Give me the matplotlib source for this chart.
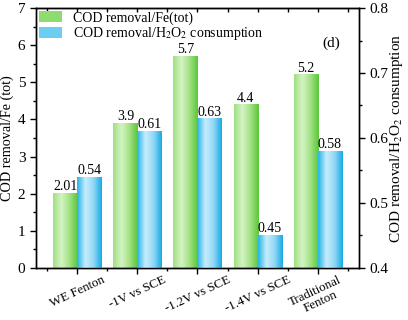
import numpy as np
import matplotlib
matplotlib.use("Agg")
import matplotlib.pyplot as plt
from matplotlib.colors import LinearSegmentedColormap
from matplotlib.patches import Patch
from matplotlib.ticker import MultipleLocator, FormatStrFormatter

plt.rcParams['font.family'] = ['Liberation Serif', 'DejaVu Serif']
plt.rcParams['mathtext.fontset'] = 'stix'

categories = ["WE Fenton", "-1V vs SCE", "-1.2V vs SCE", "-1.4V vs SCE", "Traditional\nFenton"]
cod_fe = [2.01, 3.9, 5.7, 4.4, 5.2]
cod_h2o2 = [0.54, 0.61, 0.63, 0.45, 0.58]
fe_labels = ["2.01", "3.9", "5.7", "4.4", "5.2"]
h2o2_labels = ["0.54", "0.61", "0.63", "0.45", "0.58"]

green_cmap = LinearSegmentedColormap.from_list(
    "g", ["#9fe083", "#d4f4c4", "#a2e184", "#5cc63a"])
blue_cmap = LinearSegmentedColormap.from_list(
    "b", ["#26b4e8", "#c6edfc", "#92d8f6", "#16abe4"])


def shade_bars(ax, bars, cmap):
    grad = np.linspace(0, 1, 64).reshape(1, -1)
    for b in bars:
        x, y = b.get_x(), b.get_y()
        w, h = b.get_width(), b.get_height()
        ax.imshow(grad, cmap=cmap, aspect="auto", extent=(x, x + w, y, y + h),
                  zorder=b.get_zorder(), interpolation="bicubic")
        b.set_facecolor("none")


fig = plt.figure(figsize=(4.08, 3.2), dpi=100)
ax = fig.add_axes([0.088, 0.1625, 0.792, 0.8125])
ax2 = ax.twinx()

x = np.arange(len(categories))
w = 0.4
bars1 = ax.bar(x - w / 2, cod_fe, w, color="none", linewidth=0, zorder=2)
bars2 = ax2.bar(x + w / 2, np.array(cod_h2o2) - 0.4, w, bottom=0.4,
                color="none", linewidth=0, zorder=2)

shade_bars(ax, bars1, green_cmap)
shade_bars(ax2, bars2, blue_cmap)
ax.set_xlim(-0.69, 4.69)
ax.set_ylim(0, 7)
ax2.set_ylim(0.4, 0.8)

for xi, v, s in zip(x, cod_fe, fe_labels):
    ax.text(xi - w / 2, v, s, ha="center", va="bottom", fontsize=10)
for xi, v, s in zip(x, cod_h2o2, h2o2_labels):
    ax2.text(xi + w / 2, v, s, ha="center", va="bottom", fontsize=10)

ax.set_xticks(x)
ax.set_xticklabels(categories, rotation=25, ha="center",
                   fontsize=9.3, multialignment="center", linespacing=1.05)
ax.xaxis.set_minor_locator(MultipleLocator(0.5))
ax.yaxis.set_major_locator(MultipleLocator(1))
ax.yaxis.set_minor_locator(MultipleLocator(0.5))
ax2.yaxis.set_major_locator(MultipleLocator(0.1))
ax2.yaxis.set_minor_locator(MultipleLocator(0.05))
ax2.yaxis.set_major_formatter(FormatStrFormatter("%.1f"))

ax.tick_params(axis="both", which="major", direction="out", length=4, width=1,
               labelsize=11)
ax.tick_params(axis="both", which="minor", direction="out", length=2.5, width=1)
ax.tick_params(axis="x", which="major", labelsize=9.3, pad=0)
# top spine ticks point inward
sec = ax.secondary_xaxis("top")
sec.set_xticks(np.arange(-0.5, 5, 0.5))
sec.tick_params(direction="in", length=3, width=1, labeltop=False)
ax2.tick_params(axis="y", which="major", direction="out", length=4, width=1,
                labelsize=11)
ax2.tick_params(axis="y", which="minor", direction="out", length=2.5, width=1)

for a in (ax, ax2):
    for sp in a.spines.values():
        sp.set_linewidth(1)

ax.set_ylabel("COD removal/Fe (tot)", fontsize=10.2, labelpad=3)
ax2.set_ylabel("COD removal/H$_2$O$_2$ consumption", fontsize=11, labelpad=0)

handles = [Patch(facecolor="#8edb6e", edgecolor="none"),
           Patch(facecolor="#6ccdf2", edgecolor="none")]
ax2.legend(handles, ["COD removal/Fe(tot)", "COD removal/H$_2$O$_2$ consumption"],
           loc="upper left", frameon=False, fontsize=10, handlelength=1.7,
           handleheight=0.9, borderaxespad=0.1, borderpad=0.1,
           labelspacing=0.05, handletextpad=0.8)
ax2.text(0.915, 0.865, "(d)", transform=ax2.transAxes, fontsize=11,
         ha="center", va="center")

fig.savefig("out.png", dpi=100)
